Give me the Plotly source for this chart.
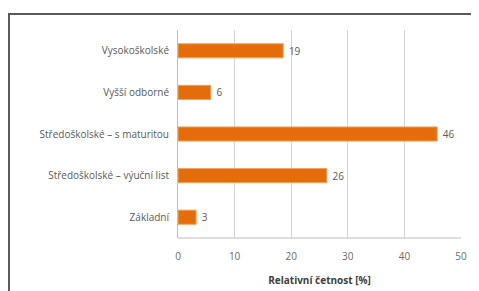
import plotly.graph_objects as go

categories = ["Základní", "Středoškolské – výuční list", "Středoškolské – s maturitou", "Vyšší odborné", "Vysokoškolské"]
values = [3.2, 26.3, 45.8, 5.8, 18.6]
labels = ["3", "26", "46", "6", "19"]
x_ticks = [0, 10, 20, 30, 40, 50]

# page body has an 8px margin, so the figure is 8px smaller than the window
W, H = 471, 283
L, R, T, B = 170, 18, 22, 53
pw, ph = W - L - R, H - T - B

def px_x(p):
    return (p - L) / pw

def px_y(p):
    return (H - B - p) / ph

fig = go.Figure(go.Bar(
    x=values, y=categories, orientation="h",
    marker=dict(color="#E46C0A", line=dict(color="#F3A35E", width=1)),
    width=0.34,
    text=labels, texttemplate=" %{text}", textposition="outside",
    textfont=dict(family="Open Sans, Liberation Sans", size=10, color="#595959"),
    cliponaxis=False,
))

fig.update_layout(
    width=W, height=H,
    margin=dict(l=L, r=R, t=T, b=B),
    paper_bgcolor="white", plot_bgcolor="white",
    showlegend=False,
    font=dict(family="Open Sans, Liberation Sans", size=10, color="#595959"),
    xaxis=dict(
        range=[0, 50], tickvals=x_ticks, showgrid=True, gridcolor="#D4D4D4", gridwidth=1,
        zeroline=False, showline=False, ticks="", automargin=False,
        tickfont=dict(size=10, color="#6A6A6A"), ticklabelstandoff=11,
        title=dict(text="<b>Relativní četnost [%]</b>", font=dict(size=10, color="#404040"), standoff=14),
    ),
    yaxis=dict(
        showgrid=False, zeroline=False, showline=True, linecolor="#BFBFBF", linewidth=1,
        ticks="", tickfont=dict(size=10, color="#595959"), ticklabelstandoff=6, automargin=False,
    ),
    shapes=[
        dict(type="line", xref="paper", yref="paper", x0=px_x(0), x1=px_x(W - 1), y0=px_y(6), y1=px_y(6),
             line=dict(color="#5A5A5A", width=2)),
        dict(type="line", xref="paper", yref="paper", x0=px_x(1), x1=px_x(1), y0=px_y(6), y1=px_y(H),
             line=dict(color="#5A5A5A", width=2)),
        dict(type="line", xref="paper", yref="paper", x0=0, x1=1, y0=0, y1=0,
             line=dict(color="#BFBFBF", width=1)),
    ],
)

fig.write_html("out.html", config={"displayModeBar": False})
